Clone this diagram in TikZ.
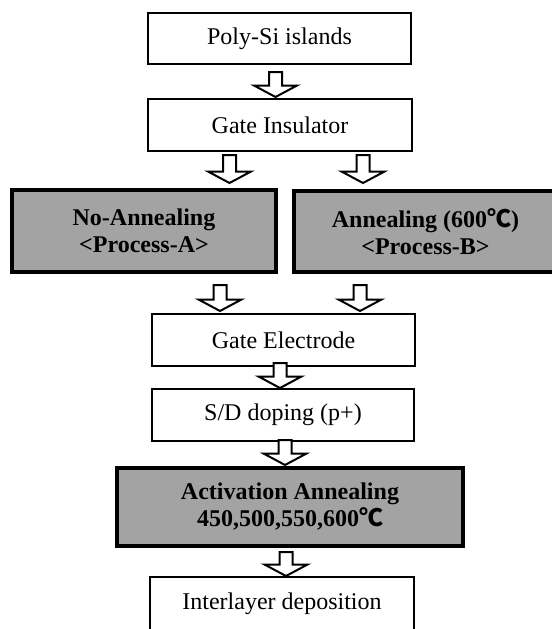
\documentclass[tikz,border=0pt]{standalone}
\usepackage{fontspec}
\setmainfont{Liberation Serif}
\newfontfamily\cjk{Noto Sans CJK KR}
\usetikzlibrary{calc}

% hollow block arrow: x, from node, to node, gap below from, gap above to
\newcommand\flowarrow[5]{%
  \coordinate (t) at ($(#1,0 |- #2.south)+(0,#4)$);
  \coordinate (b) at ($(#1,0 |- #3.north)+(0,-#5)$);
  \draw[arrowbox] ($(t)+(-6.5,0)$) -- ($(t)+(6.5,0)$) -- ($(b)+(6.5,-11.5)$)
    -- ($(b)+(21.5,-11.5)$) -- (b) -- ($(b)+(-21.5,-11.5)$)
    -- ($(b)+(-6.5,-11.5)$) -- cycle;
}

\begin{document}
\begin{tikzpicture}[x=0.75pt,y=-0.75pt,
  plainbox/.style={draw,line width=1.5pt,fill=white,inner sep=0pt,outer sep=0pt,
    font=\fontsize{18}{20.25}\selectfont},
  shadebox/.style={plainbox,line width=3.4pt,fill=black!36,align=center,
    font=\fontsize{18}{20.25}\selectfont\bfseries},
  size/.style 2 args={minimum width=0.75*#1pt,minimum height=0.75*#2pt},
  arrowbox/.style={draw,line width=1.5pt,fill=white,line join=miter}]
\path[use as bounding box] (0,0) rectangle (551,629);

% process steps
\node[plainbox,size={263}{51}] (polysi) at (279.5,38.5) {Poly-Si islands};
\node[plainbox,size={264}{52}] (ins) at (280,125) {Gate Insulator};
\node[shadebox,size={264}{82}] (procA) at (144,231) {No-Annealing\\<Process-A>};
\node[shadebox,size={263}{81}] (procB) at (425.5,231.5) {Annealing (600{\cjk ℃})\\<Process-B>};
\node[plainbox,size={263}{52}] (gate) at (283.5,340) {Gate Electrode};
\node[plainbox,size={262}{52}] (doping) at (283,415) {S/D doping (p+)};
\node[shadebox,size={346}{78}] (activ) at (290,507) {Activation Annealing\\450,500,550,600{\cjk ℃}};
\node[plainbox,size={264}{54}] (inter) at (282,604) {Interlayer deposition};

% arrows between steps
\flowarrow{275.5}{polysi}{ins}{8}{2}
\flowarrow{229.5}{ins}{procA}{4}{7}
\flowarrow{363}{ins}{procB}{4}{8}
\flowarrow{220}{procA}{gate}{13}{3}
\flowarrow{360}{procB}{gate}{13}{3}
\flowarrow{280}{gate}{doping}{-3}{1}
\flowarrow{285}{doping}{activ}{-1}{3}
\flowarrow{286}{activ}{inter}{6}{1}
\end{tikzpicture}
\end{document}
